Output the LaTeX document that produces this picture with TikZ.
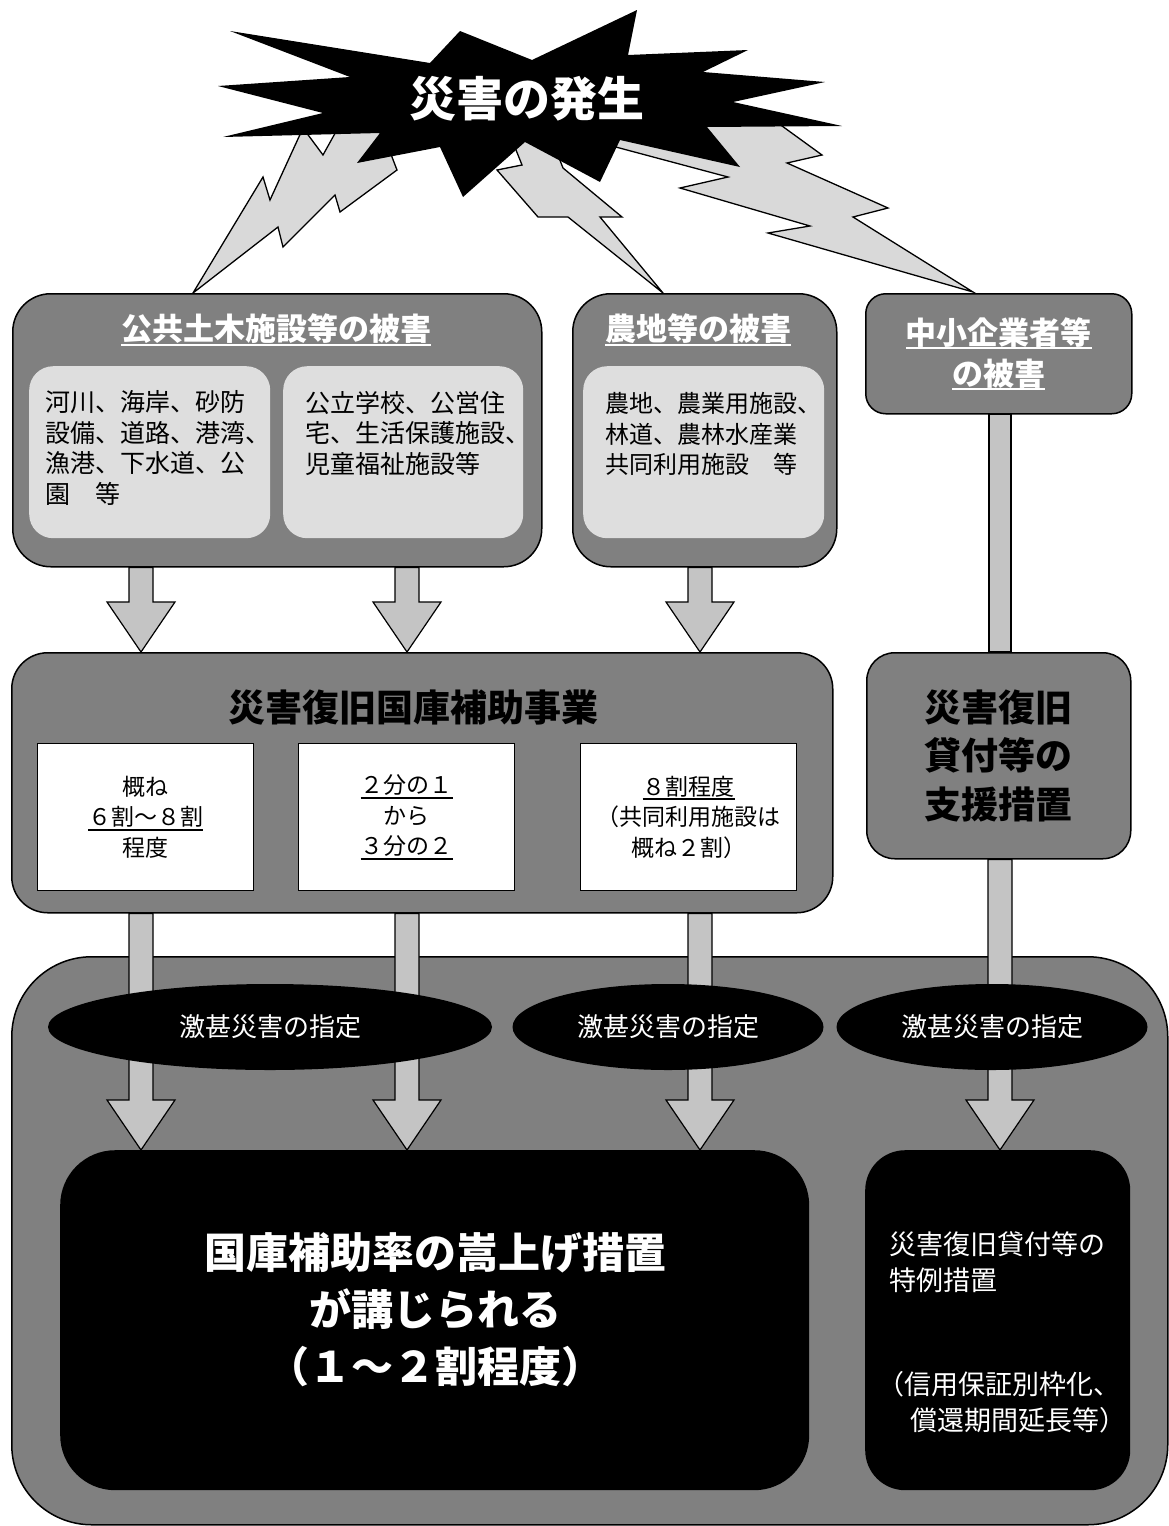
\documentclass[tikz,border=0pt]{standalone}
\usepackage{fontspec}
\setmainfont{Noto Sans CJK JP}
\usetikzlibrary{calc}
\usetikzlibrary{shapes.geometric}

\definecolor{boxgray}{gray}{0.5}
\definecolor{palegray}{gray}{0.87}
\definecolor{boltgray}{gray}{0.85}
\definecolor{arrowgray}{gray}{0.77}

\newcommand{\fsz}[2]{\fontsize{#1}{#2}\selectfont}
\newcommand{\undl}[1]{\setbox0=\hbox{#1}\rlap{\rule[-5pt]{\wd0}{2pt}}\box0}
\newcommand{\blockarrow}[2]{%
  \filldraw[arrowbody] let \p1=#1, \p2=#2 in
    (\x1-12pt,\y1) -- (\x1-12pt,\y2+50pt) -- (\x1-34pt,\y2+50pt) -- (\x1,\y2)
    -- (\x1+34pt,\y2+50pt) -- (\x1+12pt,\y2+50pt) -- (\x1+12pt,\y1) -- cycle;}

\begin{document}
\begin{tikzpicture}[x=1pt, y=-1pt, line join=miter,
  darkbox/.style={draw=black, fill=boxgray, line width=1.5pt, inner sep=0pt, anchor=north west},
  palebox/.style={fill=palegray, rounded corners=24pt, inner sep=0pt, anchor=north west, minimum height=172pt},
  ratebox/.style={draw=black, fill=white, line width=1.2pt, inner sep=0pt, anchor=north west,
    minimum width=216pt, minimum height=147pt, align=center, font=\fsz{23}{30.5}},
  nightbox/.style={fill=black, inner sep=0pt, anchor=north west, minimum height=340pt},
  designate/.style={ellipse, fill=black, text=white, inner sep=0pt, minimum height=86pt, font=\fsz{26}{30}},
  heading/.style={text=white, align=center, font=\bfseries\fsz{31}{41}},
  bodytext/.style={anchor=west, align=left, inner sep=0pt, font=\fsz{25}{30.5}},
  whitetext/.style={text=white, align=center, inner sep=0pt},
  bolt/.style={fill=boltgray, draw=black, line width=1.3pt},
  arrowbody/.style={fill=arrowgray, draw=black, line width=1.2pt}]
\useasboundingbox (0,0) rectangle (1169,1526);

% lightning
\filldraw[bolt] (193,293) -- (263,177) -- (270,200) -- (303,128) -- (323,155) -- (338,128)
  -- (385,125) -- (392,157) -- (397,170) -- (340,212) -- (335,195) -- (283,247) -- (278,227) -- cycle;
\filldraw[bolt] (663,293) -- (568,217) -- (538,217) -- (497,170) -- (522,165) -- (512,140)
  -- (552,140) -- (563,168) -- (622,217) -- (600,217) -- cycle;
\filldraw[bolt] (973,292) -- (768,233) -- (810,226) -- (680,188) -- (728,177) -- (612,146)
  -- (600,120) -- (760,110) -- (822,155) -- (787,163) -- (888,208) -- (853,217) -- cycle;

% the quake
\fill[black] (230,31) -- (430,63) -- (460,31) -- (532,60) -- (637,10) -- (628,55) -- (748,50)
  -- (703,72) -- (825,82) -- (733,102) -- (842,126) -- (707,127) -- (740,167) -- (620,140)
  -- (600,182) -- (525,142) -- (463,197) -- (440,147) -- (357,163) -- (380,133) -- (223,137)
  -- (323,113) -- (218,86) -- (350,77) -- cycle;
\node[text=white, font=\bfseries\fsz{47}{50}] (quake) at (527,99) {災害の発生};

% damage
\node[darkbox, rounded corners=38pt, minimum width=529pt, minimum height=273pt] (civil) at (12,293) {};
\node[heading] (civiltitle) at (276,330) {\undl{公共土木施設等の被害}};
\node[palebox, minimum width=241pt] (civilA) at (29,366) {};
\node[palebox, minimum width=240pt] (civilB) at (283,366) {};
\node[bodytext] (civilAtext) at (45,448) {河川、海岸、砂防\\設備、道路、港湾、\\漁港、下水道、公\\園　等};
\node[bodytext] (civilBtext) at (305,433) {公立学校、公営住\\宅、生活保護施設、\\児童福祉施設等};

\node[darkbox, rounded corners=38pt, minimum width=264pt, minimum height=273pt] (farm) at (572,293) {};
\node[heading] (farmtitle) at (698,330) {\undl{農地等の被害}};
\node[palebox, minimum width=241pt] (farmA) at (583,366) {};
\node[bodytext, font=\fsz{24}{30.5}] (farmAtext) at (605,434) {農地、農業用施設、\\林道、農林水産業\\共同利用施設　等};

\node[darkbox, rounded corners=20pt, minimum width=266pt, minimum height=120pt,
  text=white, align=center, font=\bfseries\fsz{31}{41}] (sme) at (865,293) {\undl{中小企業者等}\\\undl{の被害}};

% columns of the arrows
\coordinate (col1) at (141,0);
\coordinate (col2) at (407,0);
\coordinate (col3) at (700,0);
\coordinate (col4) at (1000,0);

% subsidy and loans
\node[darkbox, rounded corners=36pt, minimum width=821pt, minimum height=260pt] (subsidy) at (11,652) {};
\node[font=\bfseries\fsz{37}{40}] (subsidytitle) at (413,708) {災害復旧国庫補助事業};
\node[ratebox] (rateA) at (37,743) {概ね\\\undl{６割～８割}\\程度};
\node[ratebox] (rateB) at (298,743) {\undl{２分の１}\\から\\\undl{３分の２}};
\node[ratebox] (rateC) at (580,743) {\undl{８割程度}\\（共同利用施設は\\概ね２割）};

\node[darkbox, rounded corners=28pt, minimum width=264pt, minimum height=206pt,
  align=center, font=\bfseries\fsz{37}{48.5}] (loan) at (866,652) {災害復旧\\貸付等の\\支援措置};

\blockarrow{(col1 |- civil.south)}{(col1 |- subsidy.north)}
\blockarrow{(col2 |- civil.south)}{(col2 |- subsidy.north)}
\blockarrow{(col3 |- farm.south)}{(col3 |- subsidy.north)}
\filldraw[arrowbody] ($(col4 |- sme.south)+(-11,0)$) rectangle ($(col4 |- loan.north)+(11,0)$);

% severe disaster
\node[darkbox, rounded corners=80pt, minimum width=1156pt, minimum height=568pt] (severe) at (11,956) {};
\node[nightbox, rounded corners=55pt, minimum width=749pt] (raise) at (60,1150) {};
\node[nightbox, rounded corners=40pt, minimum width=265pt] (special) at (865,1150) {};

\blockarrow{(col1 |- subsidy.south)}{(col1 |- raise.north)}
\blockarrow{(col2 |- subsidy.south)}{(col2 |- raise.north)}
\blockarrow{(col3 |- subsidy.south)}{(col3 |- raise.north)}
\blockarrow{(col4 |- loan.south)}{(col4 |- special.north)}

\node[designate, minimum width=444pt] (severeA) at (270,1027) {激甚災害の指定};
\node[designate, minimum width=311pt] (severeB) at (668,1027) {激甚災害の指定};
\node[designate, minimum width=311pt] (severeC) at (992,1027) {激甚災害の指定};

\node[whitetext, font=\bfseries\fsz{42}{57}] (raisetext) at (435,1310)
  {国庫補助率の嵩上げ措置\\が講じられる\\（１～２割程度）};
\node[anchor=west, align=left, text=white, inner sep=0pt, font=\fsz{27}{36}] (specialtext) at (889,1332)
  {災害復旧貸付等の\\特例措置\\[68pt]\kern-12pt（信用保証別枠化、\\\kern-6pt　償還期間延長等）};
\end{tikzpicture}
\end{document}
